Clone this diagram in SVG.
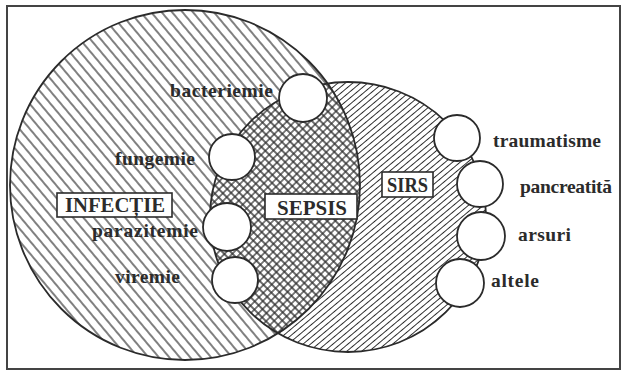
<svg xmlns="http://www.w3.org/2000/svg" width="626" height="372" viewBox="0 0 626 372">
<style>
text{font-family:"Liberation Serif","Times New Roman",serif;font-weight:bold;fill:#2b2b2b}
.lbl{font-size:19.5px}
.cap{font-size:21px}
.box{fill:#fff;stroke:#2b2b2b;stroke-width:1.6}
.dot{fill:#fff;stroke:#2b2b2b;stroke-width:1.8}
.edge{fill:none;stroke:#2b2b2b;stroke-width:1.8}
</style>
<defs>
<pattern id="hA" patternUnits="userSpaceOnUse" width="8" height="10" patternTransform="rotate(-40)"><line x1="4" y1="-1" x2="4" y2="11" stroke="#2b2b2b" stroke-width="1.2"/></pattern>
<pattern id="hB" patternUnits="userSpaceOnUse" width="4.8" height="10" patternTransform="rotate(50)"><line x1="2.4" y1="-1" x2="2.4" y2="11" stroke="#2b2b2b" stroke-width="1"/></pattern>
<pattern id="hX1" patternUnits="userSpaceOnUse" width="6" height="10" patternTransform="rotate(-45)"><line x1="3" y1="-1" x2="3" y2="11" stroke="#2b2b2b" stroke-width="1.4"/></pattern>
<pattern id="hX2" patternUnits="userSpaceOnUse" width="5.5" height="10" patternTransform="rotate(45)"><line x1="2.75" y1="-1" x2="2.75" y2="11" stroke="#2b2b2b" stroke-width="1.2"/></pattern>
<clipPath id="cE"><ellipse cx="348" cy="217" rx="138" ry="135"/></clipPath>
</defs>
<rect x="0" y="0" width="626" height="372" fill="#fff"/>
<rect x="7" y="6" width="613" height="363" fill="none" stroke="#444" stroke-width="2"/>
<g id="infectie-region">
<circle cx="185" cy="185" r="175" fill="url(#hA)"/>
</g>
<g id="sirs-region">
<ellipse cx="348" cy="217" rx="138" ry="135" fill="#fff"/>
<ellipse cx="348" cy="217" rx="138" ry="135" fill="url(#hB)"/>
</g>
<g id="sepsis-region" clip-path="url(#cE)">
<circle cx="185" cy="185" r="175" fill="#fff"/>
<circle cx="185" cy="185" r="175" fill="url(#hX1)"/>
<circle cx="185" cy="185" r="175" fill="url(#hX2)"/>
</g>
<g id="outlines">
<circle class="edge" cx="185" cy="185" r="175"/>
<ellipse class="edge" cx="348" cy="217" rx="138" ry="135"/>
</g>
<g id="connectors"></g>
<g id="infectie">
<rect class="box" x="57" y="193" width="115" height="24"/>
<text class="cap" x="65" y="212" textLength="100" lengthAdjust="spacingAndGlyphs">INFECȚIE</text>
</g>
<g id="sepsis">
<rect class="box" x="265" y="194" width="92" height="25"/>
<text class="cap" x="277" y="215" textLength="70" lengthAdjust="spacingAndGlyphs">SEPSIS</text>
</g>
<g id="sirs">
<rect class="box" x="382" y="172" width="51" height="25"/>
<text class="cap" x="387" y="192" textLength="41" lengthAdjust="spacingAndGlyphs">SIRS</text>
</g>
<g id="bacteriemie">
<circle class="dot" cx="303" cy="98" r="24"/>
<text class="lbl" x="170" y="97" textLength="103" lengthAdjust="spacing">bacteriemie</text>
</g>
<g id="fungemie">
<circle class="dot" cx="232" cy="157" r="23"/>
<text class="lbl" x="115" y="165" textLength="80" lengthAdjust="spacing">fungemie</text>
</g>
<g id="parazitemie">
<circle class="dot" cx="227" cy="227" r="24"/>
<text class="lbl" x="92" y="237" textLength="106" lengthAdjust="spacing">parazitemie</text>
</g>
<g id="viremie">
<circle class="dot" cx="235" cy="280" r="23"/>
<text class="lbl" x="115" y="283" textLength="65" lengthAdjust="spacing">viremie</text>
</g>
<g id="traumatisme">
<circle class="dot" cx="457" cy="138" r="23"/>
<text class="lbl" x="493" y="147" textLength="108" lengthAdjust="spacing">traumatisme</text>
</g>
<g id="pancreatita">
<circle class="dot" cx="480" cy="184" r="23"/>
<text class="lbl" x="520" y="193" textLength="92" lengthAdjust="spacing">pancreatită</text>
</g>
<g id="arsuri">
<circle class="dot" cx="481" cy="236" r="24"/>
<text class="lbl" x="518" y="241" textLength="53" lengthAdjust="spacing">arsuri</text>
</g>
<g id="altele">
<circle class="dot" cx="460" cy="283" r="24"/>
<text class="lbl" x="491" y="287" textLength="48" lengthAdjust="spacing">altele</text>
</g>
</svg>
